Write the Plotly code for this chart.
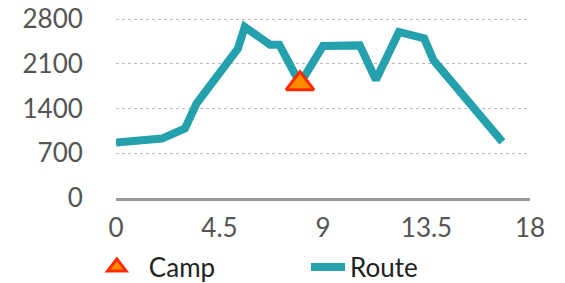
import plotly.graph_objects as go

route_x = [0, 2, 3, 3.5, 5.3, 5.6, 6.7, 7.1, 8, 9, 10.6, 11.3, 12.3, 13.4, 13.8, 16.8]
route_y = [870, 930, 1090, 1480, 2340, 2680, 2400, 2400, 1790, 2380, 2390, 1850, 2600, 2500, 2160, 880]
camp_x = [8]
camp_y = [1790]
y_ticks = [0, 700, 1400, 2100, 2800]
x_ticks = [0, 4.5, 9, 13.5, 18]
x_tick_labels = ["0", "4.5", "9", "13.5", "18"]

fig = go.Figure()
fig.add_trace(go.Scatter(
    x=route_x, y=route_y, mode="lines", name="Route",
    line=dict(color="#24a1ad", width=8), showlegend=True, legend="legend2",
))
fig.add_trace(go.Scatter(
    x=camp_x, y=camp_y, mode="markers", name="Camp", legend="legend",
    marker=dict(symbol="triangle-up", size=24, color="#ff8c00",
                line=dict(color="#ff2a00", width=3)),
))

legend_common = dict(orientation="h", xref="container", yref="container",
                     xanchor="left", y=0.058, yanchor="middle",
                     font=dict(color="#222222", size=26), bgcolor="rgba(0,0,0,0)")

fig.update_layout(
    width=557, height=275,
    margin=dict(l=108, r=35, t=8, b=85, autoexpand=False),
    paper_bgcolor="white", plot_bgcolor="white",
    font=dict(family="Lato", size=26, color="#555555"),
    showlegend=True,
    legend=dict(x=0.138, itemwidth=54, **legend_common),
    legend2=dict(x=0.535, itemwidth=34, **legend_common),
    xaxis=dict(range=[0, 18], tickvals=x_ticks, ticktext=x_tick_labels,
               showgrid=False, zeroline=False, showline=True, linecolor="#999999",
               linewidth=3, ticks="outside", ticklen=5, tickcolor="rgba(0,0,0,0)",
               ticklabeloverflow="allow"),
    yaxis=dict(range=[0, 2850], tickvals=y_ticks, showgrid=True, gridcolor="#bbbbbb",
               griddash="dot", gridwidth=1, zeroline=False, showline=False,
               ticks="outside", ticklen=27, tickcolor="rgba(0,0,0,0)",
               ticklabeloverflow="allow"),
)
fig.write_html("out.html")
